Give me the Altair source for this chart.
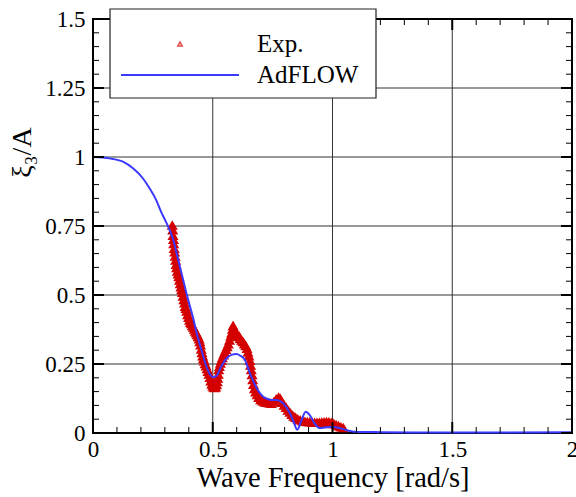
import altair as alt
import pandas as pd

# ---------------- data ----------------
adflow_x = [0.0, 0.07, 0.125, 0.167, 0.208, 0.236, 0.264, 0.285, 0.302, 0.32, 0.335, 0.355,
            0.375, 0.395, 0.417, 0.435, 0.453, 0.474, 0.49, 0.5, 0.515, 0.535, 0.557, 0.58,
            0.599, 0.615, 0.634, 0.655, 0.683, 0.718, 0.745, 0.766, 0.794, 0.822, 0.84, 0.853,
            0.87, 0.888, 0.905, 0.925, 0.945, 0.97, 1.0, 1.03, 1.06, 1.1, 1.2, 1.4, 1.7, 2.0]
adflow_y = [1.0, 0.995, 0.983, 0.959, 0.923, 0.887, 0.844, 0.80, 0.77, 0.735, 0.70, 0.63,
            0.56, 0.49, 0.42, 0.355, 0.30, 0.24, 0.21, 0.202, 0.207, 0.24, 0.27, 0.284,
            0.286, 0.28, 0.265, 0.217, 0.163, 0.127, 0.12, 0.12, 0.108, 0.072, 0.035, 0.012,
            0.045, 0.077, 0.065, 0.035, 0.018, 0.02, 0.022, 0.018, 0.01, 0.004, 0.003, 0.002,
            0.002, 0.003]

exp_x = [0.331, 0.333, 0.334, 0.336, 0.337, 0.339, 0.341, 0.343, 0.345, 0.347, 0.349, 0.352,
         0.355, 0.358, 0.361, 0.364, 0.367, 0.370, 0.373, 0.376, 0.379, 0.382, 0.385, 0.388,
         0.391, 0.395, 0.399, 0.403, 0.407, 0.411, 0.415, 0.419, 0.423, 0.427, 0.431, 0.435,
         0.439, 0.443, 0.446, 0.449, 0.452, 0.455, 0.458, 0.461, 0.464, 0.468, 0.472, 0.476,
         0.480, 0.484, 0.488, 0.492, 0.496, 0.500, 0.504, 0.508, 0.512, 0.516, 0.519, 0.521,
         0.523, 0.525, 0.528, 0.532, 0.536, 0.540, 0.545, 0.550, 0.555, 0.560, 0.565, 0.570,
         0.575, 0.579, 0.582, 0.585, 0.588, 0.592, 0.596, 0.600, 0.605, 0.610, 0.615, 0.620,
         0.626, 0.632, 0.638, 0.643, 0.647, 0.651, 0.655, 0.658, 0.661, 0.664, 0.667, 0.670,
         0.674, 0.679, 0.685, 0.692, 0.700, 0.708, 0.716, 0.725, 0.735, 0.745, 0.755, 0.765,
         0.775, 0.782, 0.790, 0.798, 0.806, 0.814, 0.822, 0.830, 0.838, 0.846, 0.855, 0.865,
         0.875, 0.885, 0.895, 0.905, 0.915, 0.925, 0.935, 0.945, 0.955, 0.965, 0.975, 0.985,
         0.995, 1.005, 1.015, 1.025, 1.035, 1.045]
exp_y = [0.752, 0.735, 0.715, 0.700, 0.685, 0.668, 0.655, 0.640, 0.625, 0.610, 0.598, 0.585,
         0.575, 0.565, 0.553, 0.540, 0.528, 0.518, 0.508, 0.495, 0.482, 0.470, 0.458, 0.450,
         0.440, 0.428, 0.418, 0.408, 0.400, 0.395, 0.388, 0.382, 0.375, 0.368, 0.362, 0.355,
         0.348, 0.340, 0.330, 0.318, 0.303, 0.290, 0.278, 0.268, 0.260, 0.250, 0.242, 0.232,
         0.222, 0.212, 0.200, 0.188, 0.177, 0.170, 0.165, 0.163, 0.166, 0.174, 0.185, 0.198,
         0.212, 0.228, 0.240, 0.252, 0.262, 0.272, 0.282, 0.292, 0.302, 0.312, 0.322, 0.335,
         0.350, 0.362, 0.375, 0.388, 0.380, 0.368, 0.358, 0.352, 0.348, 0.350, 0.342, 0.335,
         0.330, 0.322, 0.315, 0.305, 0.292, 0.278, 0.262, 0.245, 0.228, 0.210, 0.192, 0.175,
         0.160, 0.148, 0.138, 0.128, 0.120, 0.115, 0.112, 0.110, 0.108, 0.106, 0.112, 0.122,
         0.128, 0.124, 0.110, 0.100, 0.092, 0.082, 0.074, 0.066, 0.060, 0.055, 0.050, 0.046,
         0.043, 0.041, 0.040, 0.039, 0.038, 0.037, 0.037, 0.037, 0.038, 0.039, 0.040, 0.039,
         0.037, 0.033, 0.029, 0.025, 0.021, 0.018]

x_major = [0, 0.5, 1, 1.5, 2]
x_minor = [0.1, 0.2, 0.3, 0.4, 0.6, 0.7, 0.8, 0.9, 1.1, 1.2, 1.3, 1.4, 1.6, 1.7, 1.8, 1.9]
y_major = [0, 0.25, 0.5, 0.75, 1, 1.25, 1.5]
y_minor = [0.05, 0.1, 0.15, 0.2, 0.3, 0.35, 0.4, 0.45, 0.55, 0.6, 0.65, 0.7, 0.8, 0.85, 0.9,
           0.95, 1.05, 1.1, 1.15, 1.2, 1.3, 1.35, 1.4, 1.45]
x_grid = [0.5, 1, 1.5]
y_grid = [0.25, 0.5, 0.75, 1, 1.25]

legend_labels = ["Exp.", "AdFLOW"]

# ---------------- styling ----------------
W, H = 479, 414
FONT = "Liberation Serif, Times New Roman, serif"
RED = "#d40000"
BLUE = "#3a3aff"

xs = alt.Scale(domain=[0, 2], nice=False, zero=False)
ys = alt.Scale(domain=[0, 1.5], nice=False, zero=False)

df_ad = pd.DataFrame({"x": adflow_x, "y": adflow_y})
df_exp = pd.DataFrame({"x": exp_x, "y": exp_y})

xaxis = alt.Axis(values=x_major, labelExpr="'' + datum.value", title="Wave Frequency [rad/s]",
                 grid=False, ticks=False, domain=False, labelFont=FONT, labelFontSize=23,
                 labelColor="black", labelPadding=5, titleFont=FONT, titleFontSize=28.5,
                 titleFontWeight="normal", titleColor="black", titlePadding=2,
                 labelFlush=False, labelOverlap=False)
yaxis = alt.Axis(values=y_major, labelExpr="'' + datum.value", title="ξ₃/A", grid=False,
                 ticks=False, domain=False, labelFont=FONT, labelFontSize=23,
                 labelColor="black", labelPadding=8, titleFont=FONT, titleFontSize=28,
                 titleFontWeight="normal", titleColor="black", titleAngle=-90, titleX=-71,
                 titleY=133, titleAlign="center", titleBaseline="middle",
                 labelFlush=False, labelOverlap=False)

# grid lines
gx = alt.Chart(pd.DataFrame({"v": x_grid})).mark_rule(color="#333333", strokeWidth=1).encode(
    x=alt.X("v:Q", scale=xs, axis=xaxis), y=alt.value(0), y2=alt.value(H))
gy = alt.Chart(pd.DataFrame({"v": y_grid})).mark_rule(color="#333333", strokeWidth=1).encode(
    y=alt.Y("v:Q", scale=ys, axis=yaxis), x=alt.value(0), x2=alt.value(W))

# data
exp_pts = alt.Chart(df_exp).mark_point(shape="triangle-up", filled=True, fill=RED, stroke=RED,
                                       strokeWidth=2, size=58, opacity=1).encode(
    x=alt.X("x:Q", scale=xs), y=alt.Y("y:Q", scale=ys))
ad_line = alt.Chart(df_ad).mark_line(color=BLUE, strokeWidth=2, interpolate="monotone").encode(
    x=alt.X("x:Q", scale=xs), y=alt.Y("y:Q", scale=ys))

# inward ticks on all four sides
def xticks(vals, length, width):
    d = pd.DataFrame({"v": vals})
    b = alt.Chart(d).mark_rule(color="black", strokeWidth=width).encode(
        x=alt.X("v:Q", scale=xs), y=alt.value(H), y2=alt.value(H - length))
    t = alt.Chart(d).mark_rule(color="black", strokeWidth=width).encode(
        x=alt.X("v:Q", scale=xs), y=alt.value(0), y2=alt.value(length))
    return [b, t]

def yticks(vals, length, width):
    d = pd.DataFrame({"v": vals})
    l = alt.Chart(d).mark_rule(color="black", strokeWidth=width).encode(
        y=alt.Y("v:Q", scale=ys), x=alt.value(0), x2=alt.value(length))
    r = alt.Chart(d).mark_rule(color="black", strokeWidth=width).encode(
        y=alt.Y("v:Q", scale=ys), x=alt.value(W), x2=alt.value(W - length))
    return [l, r]

ticks = xticks(x_major, 11, 2) + xticks(x_minor, 6, 1) + yticks(y_major, 11, 2) + yticks(y_minor, 6, 1)

# legend (drawn manually)
leg_box = alt.Chart(pd.DataFrame({"a": [0]})).mark_rect(
    fill="white", stroke="#222222", strokeWidth=1.2).encode(
    x=alt.value(17), x2=alt.value(283), y=alt.value(-10), y2=alt.value(79))
leg_pt = alt.Chart(pd.DataFrame({"a": [0]})).mark_point(
    shape="triangle-up", filled=False, color=RED, strokeWidth=1.5, size=20).encode(
    x=alt.value(87), y=alt.value(25))
leg_line = alt.Chart(pd.DataFrame({"a": [0]})).mark_rule(color=BLUE, strokeWidth=2).encode(
    x=alt.value(28), x2=alt.value(146), y=alt.value(56))
leg_txt = alt.Chart(pd.DataFrame({"t": legend_labels, "yy": [25, 56]})).mark_text(
    font=FONT, fontSize=25, align="left", baseline="middle", color="black").encode(
    x=alt.value(164), y=alt.Y("yy:Q", scale=None, axis=None), text="t:N")

chart = alt.layer(gx, gy, exp_pts, ad_line, *ticks, leg_box, leg_pt, leg_line, leg_txt).properties(
    width=W, height=H, padding={"left": 93, "top": 19, "right": 4, "bottom": 64},
    autosize=alt.AutoSizeParams(type="none"), background="white"
).configure_view(stroke="black", strokeWidth=2)

chart.save("out.html", embed_options={"renderer": "svg", "actions": False})
